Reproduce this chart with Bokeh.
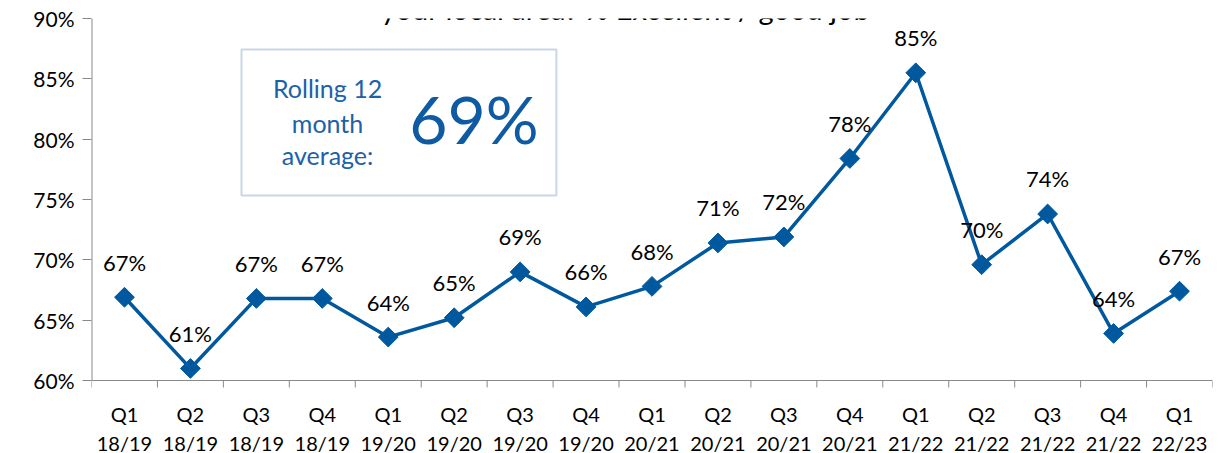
import math
from bokeh.plotting import figure
from bokeh.models import ColumnDataSource, LabelSet, Label, BoxAnnotation, FixedTicker
from bokeh.core.properties import value
from bokeh.embed import file_html
from bokeh.resources import INLINE

# ---- data ----
quarter_names = ["Q1", "Q2", "Q3", "Q4", "Q1", "Q2", "Q3", "Q4", "Q1", "Q2",
                 "Q3", "Q4", "Q1", "Q2", "Q3", "Q4", "Q1"]
fiscal_years = ["18/19", "18/19", "18/19", "18/19", "19/20", "19/20", "19/20", "19/20",
                "20/21", "20/21", "20/21", "20/21", "21/22", "21/22", "21/22", "21/22",
                "22/23"]
values = [66.9, 61.0, 66.8, 66.8, 63.6, 65.2, 69.0, 66.1, 67.8, 71.4,
          71.9, 78.4, 85.5, 69.6, 73.8, 63.9, 67.4]
value_labels = ["67%", "61%", "67%", "67%", "64%", "65%", "69%", "66%", "68%", "71%",
                "72%", "78%", "85%", "70%", "74%", "64%", "67%"]
y_ticks = [60, 65, 70, 75, 80, 85, 90]
y_tick_labels = ["60%", "65%", "70%", "75%", "80%", "85%", "90%"]
title_text = "your local area? % Excellent / good job"
avg_lines = ["Rolling 12", "month", "average:"]
avg_value = "69%"

FONT = "Lato"
BLUE = "#00599F"
GREY = "#898989"

W, H = 1219, 453
TOP, LEFT, RIGHT = 18, 91, 7
PLOT_H = 362                      # pixel height of the 60..90 span
y0, y1 = y_ticks[0], y_ticks[-1]
units_per_px = (y1 - y0) / PLOT_H
bottom_px = H - TOP - PLOT_H      # room under the axis for category labels
y_min = y0 - bottom_px * units_per_px
tick_len = 7 * units_per_px

n = len(values)
xs = list(range(n))
src = ColumnDataSource(dict(x=xs, y=values, lab=value_labels,
                            q=quarter_names, fy=fiscal_years, base=[y0] * n))
bounds = [i - 0.5 for i in range(n + 1)]
tick_src = ColumnDataSource(dict(x=bounds, top=[y0] * len(bounds),
                                 bot=[y0 - tick_len] * len(bounds)))

p = figure(width=W, height=H, output_backend="svg", toolbar_location=None,
           x_range=(-0.5, n - 0.5), y_range=(y_min, y1), x_axis_location=None,
           min_border_left=LEFT, min_border_right=RIGHT, min_border_top=TOP,
           min_border_bottom=0)
p.outline_line_color = None
p.grid.grid_line_color = None
p.background_fill_color = "white"
p.border_fill_color = "white"

# category axis: line and boundary ticks
p.segment(x0=-0.5, x1=n - 0.5, y0=y0, y1=y0, line_color=GREY, line_width=1)
p.segment(x0="x", x1="x", y0="top", y1="bot", source=tick_src, line_color=GREY, line_width=1)
# value axis line
p.segment(x0=-0.5, x1=-0.5, y0=y0, y1=y1, line_color=GREY, line_width=2)

# category labels
p.add_layout(LabelSet(x="x", y="base", text="q", source=src, y_offset=-33,
                      text_align="center", text_baseline="middle",
                      text_font=value(FONT), text_font_size="20px", text_color="black"))
p.add_layout(LabelSet(x="x", y="base", text="fy", source=src, y_offset=-62,
                      text_align="center", text_baseline="middle",
                      text_font=value(FONT), text_font_size="20px", text_color="black"))

# line + markers
p.line("x", "y", source=src, line_color=BLUE, line_width=3.5)
p.scatter("x", "y", source=src, marker="square", angle=math.pi / 4, size=14,
          fill_color=BLUE, line_color=BLUE)

# data labels
p.add_layout(LabelSet(x="x", y="y", text="lab", source=src, y_offset=35,
                      text_align="center", text_baseline="middle",
                      text_font=value(FONT), text_font_size="22px", text_color="black"))

# y axis
p.yaxis.ticker = FixedTicker(ticks=y_ticks)
p.yaxis.major_label_overrides = {t: l for t, l in zip(y_ticks, y_tick_labels)}
p.yaxis.minor_tick_line_color = None
p.yaxis.major_tick_out = 9
p.yaxis.major_tick_in = 0
p.yaxis.major_label_standoff = 8
p.yaxis.axis_line_color = None
p.yaxis.major_tick_line_color = GREY
p.yaxis.major_label_text_font = FONT
p.yaxis.major_label_text_font_size = "21px"
p.yaxis.major_label_text_color = "black"

# rolling average box
p.add_layout(BoxAnnotation(left=1.775, right=6.55, bottom=75.34, top=87.43,
                           fill_color="white", fill_alpha=1.0,
                           line_color="#4A7AB0", line_width=2))
for t, yy in zip(avg_lines, [84.28, 81.38, 78.65]):
    p.add_layout(Label(x=3.08, y=yy, text=t, text_align="center",
                       text_baseline="middle", text_font=FONT, text_font_size="25px",
                       text_color="#1B62A8"))
p.add_layout(Label(x=5.30, y=81.71, text=avg_value, text_align="center",
                   text_baseline="middle", text_font=FONT, text_font_size="66px",
                   text_color="#0E5BA3"))

# title (clipped at top as in the reference)
p.add_layout(Label(x=7.6, y=y1 + 10 * units_per_px, text=title_text, text_align="center",
                   text_baseline="alphabetic", text_font=FONT, text_font_size="29px",
                   text_color="black"))

open("out.html", "w").write(file_html(p, INLINE))
